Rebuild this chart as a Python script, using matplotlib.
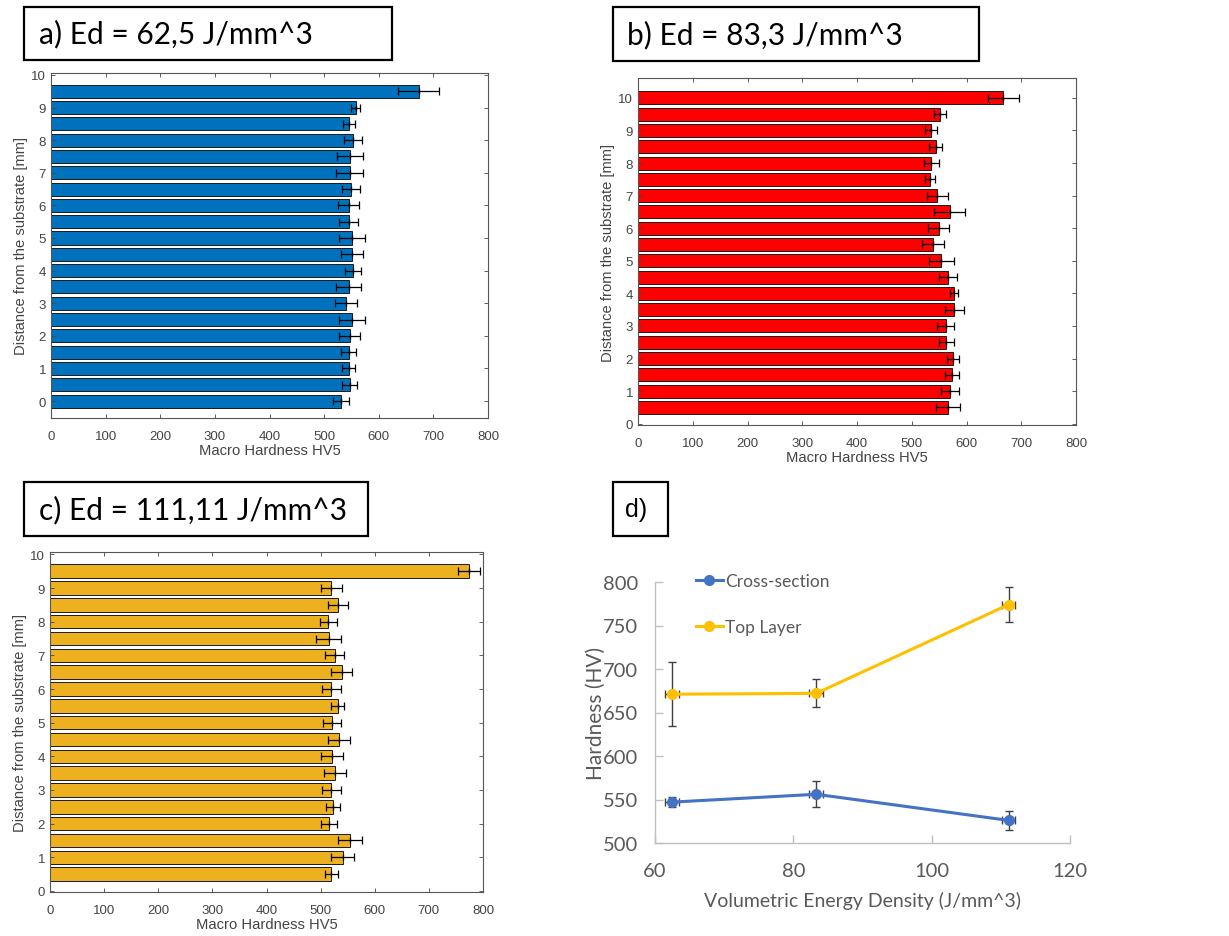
import numpy as np
import matplotlib.pyplot as plt
from matplotlib.patches import Rectangle

# panel a) Ed = 62,5
dist_a = [0, 0.5, 1, 1.5, 2, 2.5, 3, 3.5, 4, 4.5, 5, 5.5, 6, 6.5, 7, 7.5, 8, 8.5, 9, 9.5]
hv_a = [531, 547, 545, 545, 547, 551, 540, 545, 553, 551,
        551, 545, 545, 549, 547, 547, 553, 545, 558, 673]
err_a = [14, 14, 12, 14, 19, 24, 21, 23, 15, 20,
         23, 17, 19, 16, 25, 24, 16, 11, 8, 37]

# panel b) Ed = 83,3
dist_b = [0.5, 1, 1.5, 2, 2.5, 3, 3.5, 4, 4.5, 5, 5.5, 6, 6.5, 7, 7.5, 8, 8.5, 9, 9.5, 10]
hv_b = [566, 570, 573, 575, 563, 562, 578, 577, 566, 554,
        539, 549, 569, 547, 533, 536, 544, 535, 552, 667]
err_b = [22, 17, 13, 11, 14, 16, 17, 8, 17, 23,
         20, 19, 28, 20, 9, 14, 12, 11, 11, 28]

# panel c) Ed = 111,11
dist_c = [0.5, 1, 1.5, 2, 2.5, 3, 3.5, 4, 4.5, 5, 5.5, 6, 6.5, 7, 7.5, 8, 8.5, 9, 9.5]
hv_c = [520, 541, 554, 515, 523, 520, 526, 521, 534, 521,
        532, 520, 539, 526, 515, 514, 532, 520, 774]
err_c = [12, 21, 22, 15, 13, 17, 20, 20, 20, 16,
         12, 17, 19, 17, 23, 16, 19, 19, 20]

# panel d) summary
energy = [62.5, 83.3, 111.11]
energy_err = [1, 1, 1]
cross_hv = [547, 556, 526]
cross_err = [6, 15, 11]
top_hv = [671, 672, 774]
top_err = [37, 16, 20]

titles = ["a) Ed = 62,5 J/mm^3", "b) Ed = 83,3 J/mm^3", "c) Ed = 111,11 J/mm^3", "d)"]

W, H = 1229, 937
fig = plt.figure(figsize=(W / 100, H / 100), dpi=100)


def px_axes(x0, y0, x1, y1):
    return fig.add_axes([x0 / W, 1 - y1 / H, (x1 - x0) / W, (y1 - y0) / H])


def title_box(x0, y0, x1, y1, text, tx, size, family):
    fig.patches.append(Rectangle((x0 / W, 1 - y1 / H), (x1 - x0) / W, (y1 - y0) / H,
                                 transform=fig.transFigure, fill=False,
                                 edgecolor="black", linewidth=1.6))
    fig.text(tx / W, 1 - (y0 + y1) / 2 / H, text, fontsize=size, family=family,
             ha="left", va="center")


def bar_panel(ax, dist, hv, err, color, ylim):
    ax.barh(dist, hv, height=0.4, color=color, edgecolor="#1a1a1a", linewidth=0.7)
    ax.errorbar(hv, dist, xerr=err, fmt="|", color="black", markersize=5,
                elinewidth=0.9, capsize=3, capthick=0.9)
    ax.set_xlim(0, 800)
    ax.set_ylim(*ylim)
    ax.set_xticks(range(0, 801, 100))
    ax.set_yticks(range(0, 11))
    ax.tick_params(direction="in", top=True, right=True, length=3, width=0.6,
                   labelsize=9.5, colors="#444444", labelcolor="#444444")
    ax.tick_params(axis="x", pad=8.5)
    for s in ax.spines.values():
        s.set_color("#555555")
        s.set_linewidth(0.8)
    ax.set_xlabel("Macro Hardness HV5", fontsize=10.6, color="#444444", labelpad=1)
    ax.set_ylabel("Distance from the substrate [mm]", fontsize=10.6, color="#444444", labelpad=2)
    for lab in ax.get_xticklabels() + ax.get_yticklabels():
        lab.set_family("Liberation Sans")
    ax.xaxis.label.set_family("Liberation Sans")
    ax.yaxis.label.set_family("Liberation Sans")


ax_a = px_axes(51, 74, 488, 419)
bar_panel(ax_a, dist_a, hv_a, err_a, "#0072BD", (-0.52, 10.06))

ax_b = px_axes(638, 79, 1076, 426)
bar_panel(ax_b, dist_b, hv_b, err_b, "#FF0000", (-0.04, 10.61))

ax_c = px_axes(50, 553, 483, 893)
bar_panel(ax_c, dist_c, hv_c, err_c, "#EDB120", (-0.03, 10.07))

# panel d, Excel style line chart
ax_d = px_axes(655, 583, 1070, 844)
ax_d.errorbar(energy, cross_hv, yerr=cross_err, xerr=energy_err, color="#4472C4",
              ecolor="#404040", elinewidth=1, capsize=3, capthick=1,
              marker="o", markersize=7, linewidth=2.2, label="Cross-section")
ax_d.errorbar(energy, top_hv, yerr=top_err, xerr=energy_err, color="#FFC000",
              ecolor="#404040", elinewidth=1, capsize=3, capthick=1,
              marker="o", markersize=7, linewidth=2.2, label="Top Layer")
ax_d.set_xlim(60, 120)
ax_d.set_ylim(500, 800)
ax_d.set_xticks([60, 80, 100, 120])
ax_d.set_yticks([500, 550, 600, 650, 700, 750, 800])
for side in ("top", "right"):
    ax_d.spines[side].set_visible(False)
for side in ("left", "bottom"):
    ax_d.spines[side].set_color("#BFBFBF")
    ax_d.spines[side].set_linewidth(1)
ax_d.tick_params(direction="in", length=6, width=1, color="#BFBFBF",
                 labelcolor="#595959", labelsize=14.5)
ax_d.tick_params(axis="x", pad=14)
ax_d.tick_params(axis="y", pad=12)
for lab in ax_d.get_xticklabels() + ax_d.get_yticklabels():
    lab.set_family("Lato")
ax_d.set_xlabel("Volumetric Energy Density (J/mm^3)", fontsize=14, color="#595959",
                family="Lato", labelpad=8)
ax_d.set_ylabel("Hardness (HV)", fontsize=15, color="#595959", family="Lato", labelpad=-2)
handles, labels = ax_d.get_legend_handles_labels()
handles = [h[0] for h in handles]
ax_d.legend(handles, labels, loc="upper left", bbox_to_anchor=(0.06, 1.095), frameon=False,
            labelspacing=1.75, handlelength=1.6, handletextpad=0.1,
            prop={"family": "Lato", "size": 12.5}, labelcolor="#595959")

title_box(24, 8, 392, 61, titles[0], 39, 21.5, "Lato")
title_box(613, 8, 979, 62, titles[1], 627, 21.5, "Lato")
title_box(24, 483, 368, 537, titles[2], 39, 21.5, "Lato")
title_box(613, 483, 668, 537, titles[3], 625, 18, "Liberation Sans")

fig.savefig("out.png", dpi=100)
